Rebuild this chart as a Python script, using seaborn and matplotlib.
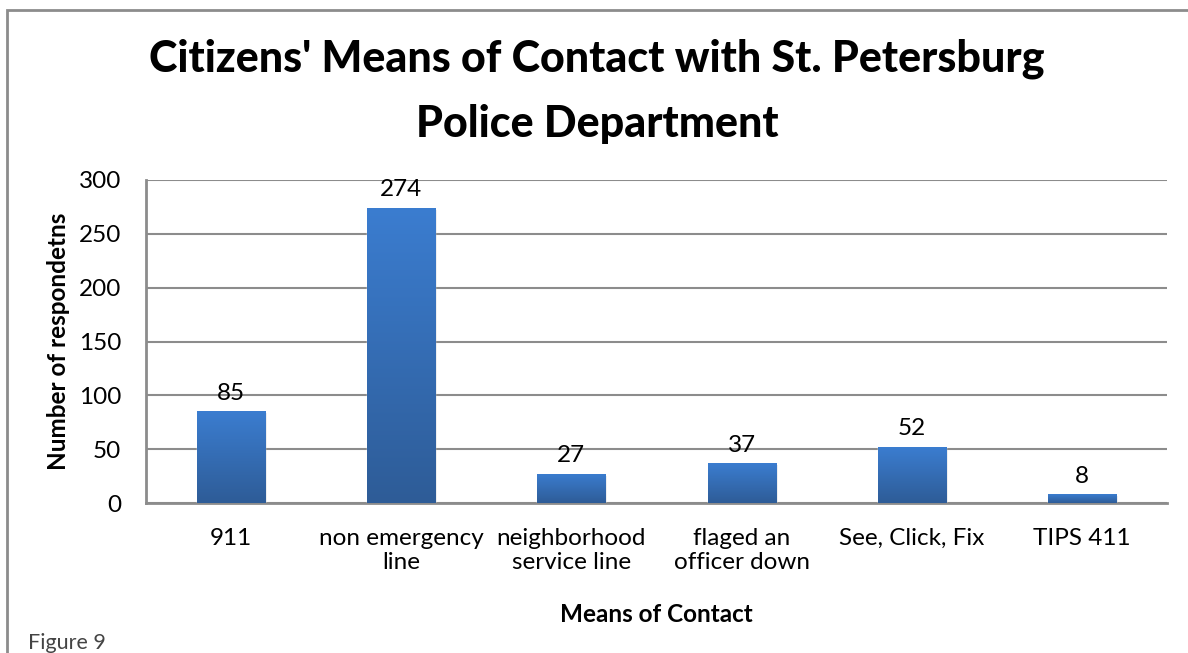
import numpy as np
import matplotlib
matplotlib.use("Agg")
import matplotlib.pyplot as plt
import seaborn as sb
from matplotlib.patches import Rectangle

# Data
categories = ["911", "non emergency\nline", "neighborhood\nservice line",
              "flaged an\nofficer down", "See, Click, Fix", "TIPS 411"]
counts = [85, 274, 27, 37, 52, 8]
y_ticks = [0, 50, 100, 150, 200, 250, 300]

sb.set_style("white")
plt.rcParams['font.family'] = ['Lato', 'DejaVu Sans']
plt.rcParams['text.color'] = "black"
plt.rcParams['axes.labelcolor'] = "black"
plt.rcParams['xtick.color'] = "black"
plt.rcParams['ytick.color'] = "black"

fig = plt.figure(figsize=(11.88, 6.53), dpi=100)
W, H = 1188, 653
ax = fig.add_axes([146 / W, 1 - 503 / H, (1167 - 146) / W, (503 - 180) / H])

sb.barplot(x=categories, y=counts, color="#3670BA", width=0.4, ax=ax,
           saturation=1, zorder=3)

# gradient fill on bars
grad = np.linspace(0, 1, 256).reshape(-1, 1)
cmap = matplotlib.colors.LinearSegmentedColormap.from_list(
    "bar", ["#2E5C97", "#3B7DD0"])
for p in ax.patches:
    x0, y0 = p.get_x(), p.get_y()
    w, h = p.get_width(), p.get_height()
    # soft shadow
    ax.add_patch(Rectangle((x0 + 0.012, y0), w, h - 1.5, color="#000000",
                           alpha=0.08, zorder=2, lw=0))
    im = ax.imshow(grad, cmap=cmap, extent=[x0, x0 + w, y0, y0 + h],
                   aspect="auto", origin="lower", zorder=4)
    im.set_clip_path(p)
    ax.text(x0 + w / 2, h + 7, str(int(h)), ha="center", va="bottom",
            fontsize=17.5, zorder=5)

ax.set_xlim(-0.5, len(categories) - 0.5)
ax.set_ylim(0, 300)
ax.set_yticks(y_ticks)
ax.yaxis.grid(True, color="#8C8C8C", lw=1.5, zorder=0)
ax.set_axisbelow(True)
for s in ["top", "right"]:
    ax.spines[s].set_visible(False)
for s in ["left", "bottom"]:
    ax.spines[s].set_color("#8C8C8C")
    ax.spines[s].set_linewidth(2)
ax.tick_params(axis="both", labelsize=17.5, length=0, pad=18)
ax.tick_params(axis="y", pad=18)

ax.set_xlabel("Means of Contact", fontsize=17.5, fontweight="bold",
              labelpad=21)
ax.set_ylabel("Number of respondetns", fontsize=17.5, fontweight="bold")
ax.yaxis.label.set_ha("center")
ax.yaxis.label.set_va("center")
ax.yaxis.set_label_coords(-88 / 1021, 0.5)

fig.text(597 / W, 1 - 91 / H,
         "Citizens' Means of Contact with St. Petersburg\nPolice Department",
         ha="center", va="center", fontsize=31, fontweight="black",
         linespacing=1.75)

# outer chart frame
fig.patches.append(Rectangle((7 / W, -0.1), 1.2, 1 - 10 / H + 0.1,
                             transform=fig.transFigure, fill=False,
                             edgecolor="#8C8C8C", lw=2))
fig.text(28 / W, 1 - 643 / H, "Figure 9", fontsize=15.5, color="#444444",
         va="center")

fig.savefig("out.png", dpi=100)
